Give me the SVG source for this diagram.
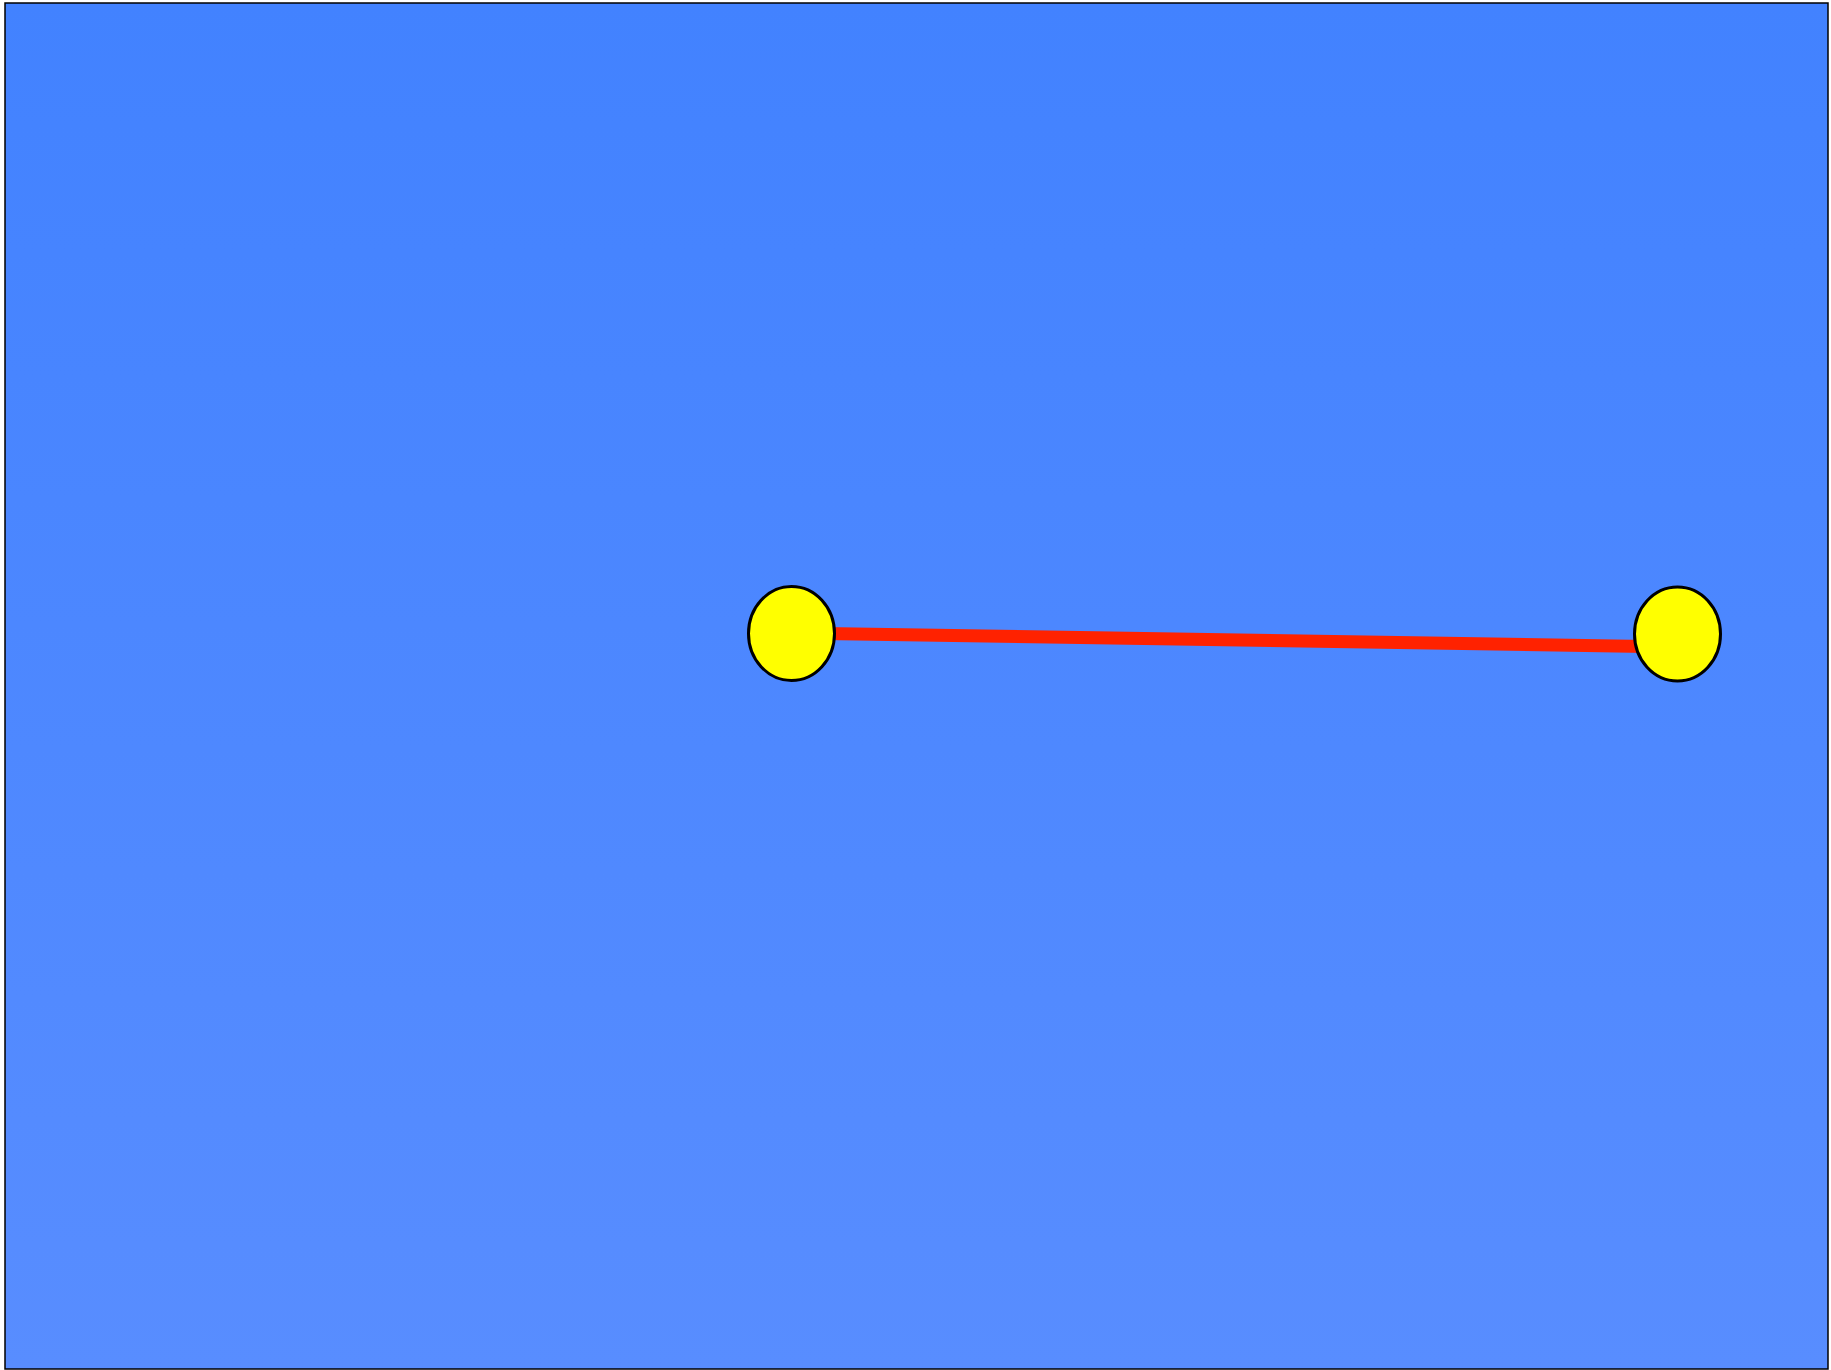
<svg xmlns="http://www.w3.org/2000/svg" width="1831" height="1370" viewBox="0 0 1831 1370">
<style>
.node{fill:#ffff00;stroke:#000;stroke-width:3}
.edge{stroke:#ff2200;stroke-width:13;fill:none}
</style>
<defs>
<linearGradient id="bg" x1="0" y1="0" x2="0" y2="1">
<stop offset="0" stop-color="#4282ff"/>
<stop offset="1" stop-color="#588dff"/>
</linearGradient>
</defs>
<rect x="5" y="3" width="1823" height="1366" fill="url(#bg)" stroke="#000" stroke-width="1.5"/>
<g id="connectors">
<line class="edge" x1="791" y1="633" x2="1677" y2="647"/>
</g>
<g id="node1"><ellipse class="node" cx="791.5" cy="633.5" rx="43" ry="47"/></g>
<g id="node2"><ellipse class="node" cx="1677.5" cy="634" rx="43" ry="47"/></g>
</svg>
